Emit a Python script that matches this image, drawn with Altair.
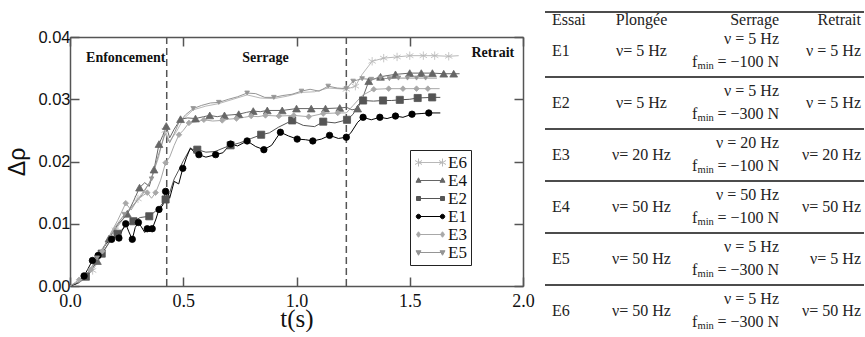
import altair as alt
import pandas as pd

# ------------------------------------------------------------------ data
x_ticks = [0.0, 0.5, 1.0, 1.5, 2.0]
y_ticks = [0.00, 0.01, 0.02, 0.03, 0.04]
phase_bounds = [0.427, 1.22]
phase_labels = ["Enfoncement", "Serrage", "Retrait"]
phase_label_t = [0.246, 0.863, 1.867]
phase_label_y = [0.0366, 0.0366, 0.0374]

E1_t = [0.000, 0.030, 0.062, 0.080, 0.099, 0.110, 0.124, 0.140, 0.160, 0.184, 0.200, 0.216, 0.230, 0.246, 0.260, 0.275, 0.288, 0.302, 0.315, 0.330, 0.341, 0.352, 0.363, 0.378, 0.393, 0.410, 0.422, 0.427, 0.440, 0.460, 0.480, 0.498, 0.515, 0.532, 0.550, 0.569, 0.600, 0.643, 0.675, 0.709, 0.740, 0.782, 0.820, 0.856, 0.890, 0.929, 0.965, 1.003, 1.040, 1.072, 1.110, 1.146, 1.185, 1.220, 1.240, 1.270, 1.294, 1.330, 1.368, 1.400, 1.437, 1.470, 1.510, 1.550, 1.584, 1.635]
E1_y = [0.0000, 0.0004, 0.0016, 0.0028, 0.0041, 0.0039, 0.0049, 0.0058, 0.0068, 0.0075, 0.0081, 0.0077, 0.0089, 0.0100, 0.0087, 0.0075, 0.0094, 0.0102, 0.0095, 0.0086, 0.0092, 0.0087, 0.0092, 0.0106, 0.0123, 0.0130, 0.0152, 0.0157, 0.0141, 0.0168, 0.0164, 0.0189, 0.0207, 0.0222, 0.0214, 0.0211, 0.0207, 0.0211, 0.0214, 0.0228, 0.0225, 0.0233, 0.0224, 0.0219, 0.0226, 0.0247, 0.0241, 0.0236, 0.0235, 0.0233, 0.0236, 0.0242, 0.0237, 0.0239, 0.0246, 0.0263, 0.0271, 0.0267, 0.0271, 0.0269, 0.0273, 0.0271, 0.0276, 0.0277, 0.0278, 0.0278]
E1_mk = [0.062, 0.099, 0.124, 0.184, 0.216, 0.246, 0.275, 0.302, 0.341, 0.363, 0.393, 0.422, 0.498, 0.569, 0.643, 0.709, 0.782, 0.856, 0.929, 1.003, 1.072, 1.146, 1.220, 1.294, 1.368, 1.437, 1.510, 1.584]

E2_t = [0.000, 0.040, 0.070, 0.100, 0.140, 0.170, 0.210, 0.240, 0.280, 0.310, 0.350, 0.390, 0.422, 0.440, 0.460, 0.480, 0.500, 0.530, 0.562, 0.600, 0.640, 0.680, 0.709, 0.750, 0.800, 0.844, 0.880, 0.920, 0.981, 1.030, 1.080, 1.118, 1.170, 1.223, 1.250, 1.270, 1.294, 1.340, 1.382, 1.420, 1.456, 1.500, 1.535, 1.599, 1.635]
E2_y = [0.0000, 0.0006, 0.0015, 0.0030, 0.0052, 0.0068, 0.0084, 0.0094, 0.0104, 0.0110, 0.0112, 0.0124, 0.0139, 0.0150, 0.0172, 0.0186, 0.0201, 0.0220, 0.0219, 0.0215, 0.0216, 0.0222, 0.0226, 0.0230, 0.0237, 0.0243, 0.0246, 0.0255, 0.0266, 0.0258, 0.0256, 0.0264, 0.0262, 0.0267, 0.0276, 0.0290, 0.0298, 0.0297, 0.0298, 0.0298, 0.0299, 0.0300, 0.0302, 0.0303, 0.0303]
E2_mk = [0.070, 0.140, 0.210, 0.280, 0.350, 0.422, 0.562, 0.709, 0.844, 0.981, 1.118, 1.223, 1.294, 1.382, 1.456, 1.535, 1.599]

E3_t = [0.000, 0.040, 0.091, 0.143, 0.180, 0.210, 0.246, 0.270, 0.300, 0.341, 0.360, 0.378, 0.400, 0.422, 0.440, 0.460, 0.481, 0.500, 0.525, 0.560, 0.591, 0.630, 0.672, 0.700, 0.735, 0.770, 0.800, 0.830, 0.863, 0.922, 0.988, 1.054, 1.118, 1.182, 1.220, 1.250, 1.290, 1.341, 1.407, 1.470, 1.530, 1.580, 1.632]
E3_y = [0.0000, 0.0010, 0.0026, 0.0056, 0.0085, 0.0105, 0.0133, 0.0122, 0.0140, 0.0150, 0.0141, 0.0150, 0.0170, 0.0198, 0.0207, 0.0226, 0.0243, 0.0250, 0.0262, 0.0264, 0.0267, 0.0265, 0.0266, 0.0268, 0.0269, 0.0271, 0.0273, 0.0272, 0.0274, 0.0273, 0.0274, 0.0272, 0.0277, 0.0278, 0.0278, 0.0290, 0.0306, 0.0316, 0.0317, 0.0317, 0.0317, 0.0317, 0.0317]
E3_mk = [0.040, 0.091, 0.143, 0.246, 0.341, 0.378, 0.422, 0.481, 0.525, 0.591, 0.672, 0.735, 0.800, 0.863, 0.922, 0.988, 1.054, 1.118, 1.182, 1.341, 1.407, 1.470, 1.530, 1.580]

E4_t = [0.000, 0.040, 0.080, 0.121, 0.150, 0.172, 0.210, 0.253, 0.280, 0.307, 0.330, 0.350, 0.371, 0.393, 0.410, 0.425, 0.440, 0.460, 0.488, 0.520, 0.554, 0.590, 0.617, 0.650, 0.682, 0.715, 0.745, 0.780, 0.809, 0.840, 0.871, 0.937, 1.000, 1.065, 1.128, 1.191, 1.221, 1.245, 1.270, 1.295, 1.319, 1.345, 1.371, 1.400, 1.437, 1.470, 1.500, 1.551, 1.600, 1.650, 1.694, 1.720]
E4_y = [0.0000, 0.0005, 0.0018, 0.0040, 0.0062, 0.0076, 0.0098, 0.0116, 0.0136, 0.0158, 0.0166, 0.0160, 0.0187, 0.0228, 0.0242, 0.0257, 0.0238, 0.0252, 0.0268, 0.0270, 0.0269, 0.0272, 0.0274, 0.0272, 0.0274, 0.0275, 0.0276, 0.0279, 0.0281, 0.0280, 0.0282, 0.0282, 0.0285, 0.0285, 0.0285, 0.0286, 0.0287, 0.0283, 0.0285, 0.0305, 0.0329, 0.0333, 0.0336, 0.0338, 0.0340, 0.0341, 0.0342, 0.0342, 0.0342, 0.0341, 0.0341, 0.0341]
E4_mk = [0.121, 0.172, 0.253, 0.307, 0.371, 0.393, 0.425, 0.488, 0.554, 0.617, 0.682, 0.745, 0.809, 0.871, 0.937, 1.000, 1.065, 1.128, 1.191, 1.270, 1.319, 1.371, 1.437, 1.500, 1.551, 1.600, 1.650, 1.694]

E5_t = [0.000, 0.040, 0.080, 0.120, 0.160, 0.200, 0.240, 0.280, 0.320, 0.360, 0.390, 0.420, 0.440, 0.460, 0.480, 0.510, 0.544, 0.580, 0.620, 0.657, 0.700, 0.740, 0.782, 0.820, 0.860, 0.900, 0.940, 0.980, 1.022, 1.060, 1.100, 1.140, 1.180, 1.220, 1.250, 1.290, 1.330, 1.370, 1.410, 1.450, 1.490, 1.530, 1.570, 1.620]
E5_y = [0.0000, 0.0007, 0.0022, 0.0045, 0.0070, 0.0095, 0.0115, 0.0130, 0.0147, 0.0172, 0.0210, 0.0245, 0.0230, 0.0245, 0.0262, 0.0275, 0.0285, 0.0290, 0.0294, 0.0295, 0.0300, 0.0304, 0.0310, 0.0309, 0.0303, 0.0303, 0.0306, 0.0308, 0.0313, 0.0316, 0.0313, 0.0321, 0.0318, 0.0317, 0.0329, 0.0333, 0.0332, 0.0334, 0.0333, 0.0334, 0.0334, 0.0334, 0.0334, 0.0334]
E5_mk = [0.120, 0.240, 0.360, 0.544, 0.657, 0.782, 0.900, 1.022, 1.140, 1.220, 1.250, 1.290, 1.330, 1.370, 1.410, 1.450, 1.490, 1.530, 1.570]

E6_t = [0.000, 0.050, 0.100, 0.150, 0.200, 0.250, 0.300, 0.350, 0.390, 0.420, 0.440, 0.470, 0.500, 0.544, 0.600, 0.657, 0.720, 0.782, 0.840, 0.900, 0.960, 1.022, 1.080, 1.140, 1.220, 1.260, 1.290, 1.334, 1.385, 1.444, 1.500, 1.560, 1.610, 1.672, 1.716]
E6_y = [0.0000, 0.0008, 0.0025, 0.0055, 0.0090, 0.0115, 0.0140, 0.0165, 0.0205, 0.0250, 0.0232, 0.0248, 0.0268, 0.0283, 0.0289, 0.0293, 0.0300, 0.0307, 0.0302, 0.0301, 0.0305, 0.0311, 0.0312, 0.0318, 0.0316, 0.0321, 0.0340, 0.0361, 0.0366, 0.0368, 0.0370, 0.0370, 0.0370, 0.0369, 0.0370]
E6_mk = [0.100, 0.200, 0.300, 0.420, 1.220, 1.260, 1.334, 1.385, 1.444, 1.500, 1.560, 1.610, 1.672]

series_order = ["E6", "E4", "E2", "E1", "E3", "E5"]
series_data = {
    "E1": (E1_t, E1_y, E1_mk), "E2": (E2_t, E2_y, E2_mk), "E3": (E3_t, E3_y, E3_mk),
    "E4": (E4_t, E4_y, E4_mk), "E5": (E5_t, E5_y, E5_mk), "E6": (E6_t, E6_y, E6_mk),
}

# table contents
header = ["Essai", "Plongée", "Serrage", "Retrait"]
essais = ["E1", "E2", "E3", "E4", "E5", "E6"]
plongee = ["ν= 5 Hz", "ν= 5 Hz", "ν= 20 Hz", "ν= 50 Hz", "ν= 50 Hz", "ν= 50 Hz"]
serrage_nu = ["ν = 5 Hz", "ν = 5 Hz", "ν = 20 Hz", "ν = 50 Hz", "ν = 5 Hz", "ν = 5 Hz"]
serrage_fmin = ["= −100 N", "= −300 N", "= −100 N", "= −100 N", "= −300 N", "= −300 N"]
retrait = ["ν = 5 Hz", "ν = 5 Hz", "ν= 20 Hz", "ν= 50 Hz", "ν= 5 Hz", "ν= 50 Hz"]

# ------------------------------------------------------------------ build tables
rows = []
for s in series_order:
    t, y, mk = series_data[s]
    assert len(t) == len(y), s
    mks = {round(v, 3) for v in mk}
    for ti, yi in zip(t, y):
        rows.append({"series": s, "t": ti, "dp": yi, "m": int(round(ti, 3) in mks)})
df = pd.DataFrame(rows)
bounds_df = pd.DataFrame({"t": phase_bounds})
phase_df = pd.DataFrame({"label": phase_labels, "t": phase_label_t, "dp": phase_label_y})

# ------------------------------------------------------------------ styles
SERIF = "Liberation Serif"
SANS = "Liberation Sans"
AX = "#555555"
COLORS = ["#b8b8b8", "#666666", "#555555", "#000000", "#a8a8a8", "#959595"]
AST = "M0,-1L0,1M-0.87,-0.5L0.87,0.5M-0.87,0.5L0.87,-0.5"
MARKERS = [AST, "triangle-up", "square", "circle", "diamond", "triangle-down"]
MSIZES = [70, 22, 15, 19, 20, 22]


def comp(kind):
    out = "M-2.4,0L2.4,0"
    for c in (-2.4, 2.4):
        if kind == "circle":
            out += f"M{c-0.45},0A0.45,0.45 0 1,0 {c+0.45},0A0.45,0.45 0 1,0 {c-0.45},0Z"
        elif kind == "square":
            out += f"M{c-0.4},-0.4H{c+0.4}V0.4H{c-0.4}Z"
        elif kind == "tup":
            out += f"M{c},-0.55L{c+0.5},0.35L{c-0.5},0.35Z"
        elif kind == "tdown":
            out += f"M{c},0.55L{c+0.5},-0.35L{c-0.5},-0.35Z"
        elif kind == "diamond":
            out += f"M{c},-0.55L{c+0.4},0L{c},0.55L{c-0.4},0Z"
        else:
            out += f"M{c},-0.8L{c},0.8M{c-0.7},-0.4L{c+0.7},0.4M{c-0.7},0.4L{c+0.7},-0.4"
    return out


LEG_SHAPES = [comp("ast"), comp("tup"), comp("square"), comp("circle"), comp("diamond"), comp("tdown")]

W, H = 453, 249
xs = alt.Scale(domain=[0, 2], nice=False, zero=False)
ys = alt.Scale(domain=[0, 0.04], nice=False, zero=False)
inward = {"expr": "-9"}
common_axis = dict(tickSize=inward, tickColor=AX, tickWidth=1.5, domainColor=AX,
                   domainWidth=1.5, grid=False, labelFlush=False, labelOverlap=False)

ax_bottom = alt.Axis(orient="bottom", values=x_ticks, format=".1f", labelFont=SERIF,
                     labelFontSize=18, labelColor="#111", labelPadding=15,
                     title="t(s)", titleFont=SERIF, titleFontSize=25, titleFontWeight="normal",
                     titleColor="#111", titlePadding=-4, **common_axis)
ax_left = alt.Axis(orient="left", values=y_ticks, format=".2f", labelFont=SANS,
                   labelFontSize=16.5, labelColor="#111", labelPadding=9,
                   title="Δρ", titleFont=SANS, titleFontSize=23, titleFontWeight="normal",
                   titleColor="#111", titlePadding=8, **common_axis)
ax_top = alt.Axis(orient="top", values=x_ticks, labels=False, title=None, **common_axis)
ax_right = alt.Axis(orient="right", values=y_ticks, labels=False, title=None, **common_axis)

cscale = alt.Scale(domain=series_order, range=COLORS)

bounds = alt.Chart(bounds_df).mark_rule(color=AX, strokeWidth=1.5, strokeDash=[7, 4]).encode(
    x=alt.X("t:Q", scale=xs, axis=None))

phase_txt = alt.Chart(phase_df).mark_text(font=SERIF, fontSize=14, fontWeight="bold", color="#111").encode(
    x=alt.X("t:Q", scale=xs, axis=None), y=alt.Y("dp:Q", scale=ys, axis=None), text="label:N")

lines = alt.Chart(df).mark_line(strokeWidth=1.0).encode(
    x=alt.X("t:Q", scale=xs, axis=ax_bottom),
    y=alt.Y("dp:Q", scale=ys, axis=ax_left),
    stroke=alt.Stroke("series:N", scale=cscale, legend=None),
    order=alt.Order("t:Q"))

points = alt.Chart(df).transform_filter("datum.m == 1").mark_point(
    filled=True, opacity=1, strokeWidth=0.8).encode(
    x=alt.X("t:Q", scale=xs, axis=ax_top),
    y=alt.Y("dp:Q", scale=ys, axis=ax_right),
    fill=alt.Fill("series:N", scale=cscale, legend=None),
    stroke=alt.Stroke("series:N", scale=cscale, legend=None),
    shape=alt.Shape("series:N", scale=alt.Scale(domain=series_order, range=MARKERS), legend=None),
    size=alt.Size("series:N", scale=alt.Scale(domain=series_order, range=MSIZES), legend=None))

leg = dict(orient="none", legendX=340, legendY=113, title=None, strokeColor="#222",
           fillColor="white", padding=4, labelFont=SERIF, labelFontSize=17, labelColor="#111",
           symbolSize=100, symbolStrokeWidth=1, rowPadding=0, symbolOffset=8, labelOffset=9)
legend_layer = alt.Chart(df).transform_filter("false").mark_point(
    filled=True, opacity=1).encode(
    x=alt.X("t:Q", scale=xs, axis=None), y=alt.Y("dp:Q", scale=ys, axis=None),
    fill=alt.Fill("series:N", scale=cscale, legend=alt.Legend(**leg)),
    stroke=alt.Stroke("series:N", scale=cscale, legend=alt.Legend(**leg)),
    shape=alt.Shape("series:N", scale=alt.Scale(domain=series_order, range=LEG_SHAPES),
                    legend=alt.Legend(**leg)))

plot = alt.layer(bounds, phase_txt, lines, points, legend_layer).resolve_scale(
    fill="independent", stroke="independent", shape="independent", size="independent"
).properties(width=W, height=H, title=alt.TitleParams(" ", fontSize=12, offset=16))

# ------------------------------------------------------------------ table
# table coordinates are relative to the top of the plot area (y = 36 px on the page)
TW, TH = 325, 285
ROW_TOP, ROW_BOT = -12, 300
HEAD_Y, TOP_RULE_Y = -17, -25
TCOL = "#222"
TFS = 16
tdf = pd.DataFrame({"essai": essais, "plongee": plongee, "serr_nu": serrage_nu,
                    "fmin": serrage_fmin, "retrait": retrait})
tdf["f"] = "f"
tdf["sub"] = "min"
hdf = pd.DataFrame({"h": header})
sep_df = pd.DataFrame({"essai": essais[:-1]})
yrow_scale = alt.Scale(domain=essais, range=[ROW_TOP, ROW_BOT], paddingInner=0, paddingOuter=0)


def tcol(field, x, align, dy=0, size=TFS):
    return alt.Chart(tdf).mark_text(align=align, baseline="middle", dy=dy, font=SERIF,
                                    fontSize=size, color=TCOL).encode(
        x=alt.value(x), y=alt.Y("essai:N", scale=yrow_scale, axis=None), text=f"{field}:N")


def thead(name, x, align):
    return alt.Chart(hdf).transform_filter(alt.datum.h == name).mark_text(
        align=align, baseline="middle", font=SERIF, fontSize=TFS, color=TCOL).encode(
        x=alt.value(x), y=alt.value(HEAD_Y), text="h:N")


seps = alt.Chart(sep_df).mark_rule(color="#111", strokeWidth=1.4).encode(
    x=alt.value(6), x2=alt.value(TW),
    y=alt.Y("essai:N", scale=yrow_scale, bandPosition=1, axis=None))
top_rule = alt.Chart(hdf.head(1)).mark_rule(color="#111", strokeWidth=1.4).encode(
    x=alt.value(6), x2=alt.value(TW), y=alt.value(TOP_RULE_Y))

table = alt.layer(
    top_rule, seps,
    thead("Essai", 13, "left"), thead("Plongée", 102.5, "center"),
    thead("Serrage", 240, "right"), thead("Retrait", 322, "right"),
    tcol("essai", 13, "left"), tcol("plongee", 102.5, "center"),
    tcol("serr_nu", 240, "right", dy=-12), tcol("f", 153, "left", dy=11),
    tcol("sub", 158.5, "left", dy=15, size=10.5), tcol("fmin", 240, "right", dy=11),
    tcol("retrait", 322, "right"),
).properties(width=TW, height=TH)

chart = alt.hconcat(plot, table, spacing=4).properties(
    padding={"left": 6, "top": 0, "right": 0, "bottom": 0}, background="white"
).configure_view(stroke=None)

chart.save("out.html", embed_options={"renderer": "svg", "actions": False})
